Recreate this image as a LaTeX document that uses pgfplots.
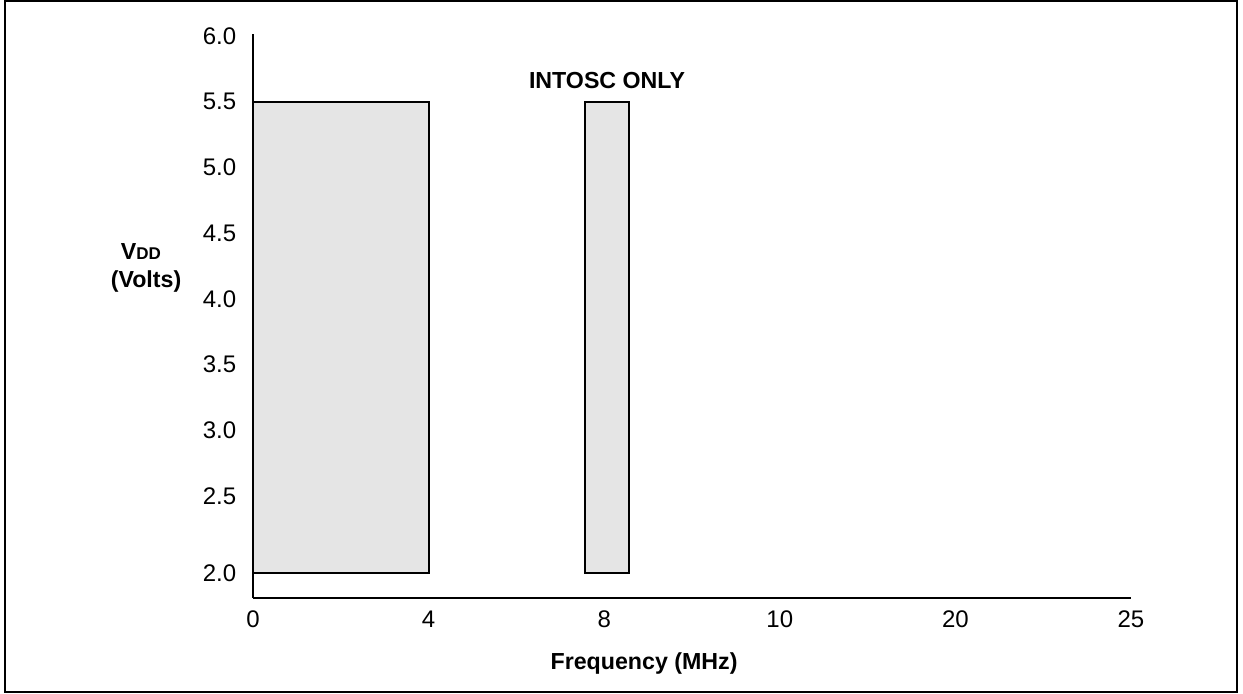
\documentclass[border=0pt]{standalone}
\usepackage{fontspec}
\setmainfont{Liberation Sans}
\usepackage{pgfplots}
\pgfplotsset{compat=1.18}
\definecolor{boxfill}{RGB}{229,229,229}
\begin{document}
\fontsize{11.6}{13}\selectfont
\begin{tikzpicture}
% page = 1243x694 px at 0.5pt per px, axis corner at (253,598) px
\useasboundingbox (-126.5pt,-48pt) rectangle (495pt,299pt);
\draw[line width=1pt] (-124pt,-47.25pt) rectangle (492pt,298.25pt);
\begin{axis}[
  scale only axis,
  width=439pt, height=282pt,
  xmin=0, xmax=5,
  ymin=1.724, ymax=6.016,
  axis lines=left,
  axis line style={-, line width=1pt},
  major tick length=0pt,
  xtick={0,1,2,3,4,5},
  xticklabels={0,4,8,10,20,25},
  ytick={1.914,2.5,3,3.5,4,4.5,5,5.5,6},
  yticklabels={2.0,2.5,3.0,3.5,4.0,4.5,5.0,5.5,6.0},
  xticklabel style={yshift=-2.5pt},
  yticklabel style={xshift=-4.3pt},
  /pgf/number format/assume math mode=true,
  tick label style={font=\fontsize{12}{14}\selectfont},
  clip=false,
]
\addplot[fill=boxfill, draw=black, line width=1pt] coordinates {(0,1.914) (1,1.914) (1,5.5) (0,5.5)} -- cycle;
\addplot[fill=boxfill, draw=black, line width=1pt] coordinates {(1.89,1.914) (2.14,1.914) (2.14,5.5) (1.89,5.5)} -- cycle;
\node[font=\bfseries] at (axis cs:2.016,5.659) {INTOSC ONLY};
\node[font=\bfseries] at (axis cs:-0.638,4.357) {V{\fontsize{8.5}{10}\selectfont DD}};
\node[font=\bfseries] at (axis cs:-0.609,4.129) {(Volts)};
\node[font=\bfseries] at (axis cs:2.227,1.222) {Frequency (MHz)};
\end{axis}
\end{tikzpicture}
\end{document}
